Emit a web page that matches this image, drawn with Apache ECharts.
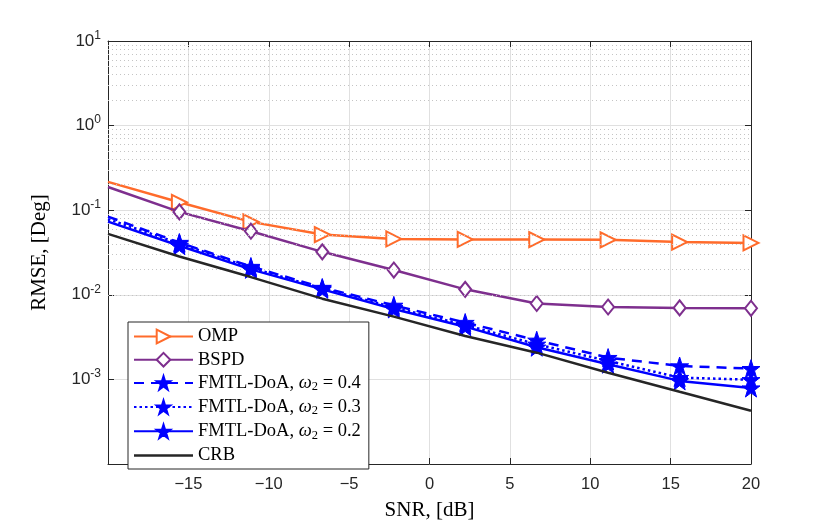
<!DOCTYPE html>
<html>
<head>
<meta charset="utf-8">
<title>RMSE vs SNR</title>
<script src="https://cdn.jsdelivr.net/npm/echarts@6/dist/echarts.min.js"></script>
<style>
  html, body { margin: 0; padding: 0; background: #fff; }
  #main { width: 830px; height: 526px; }
</style>
</head>
<body>
<div id="main"></div>
<script>
// x 轴: SNR (dB)
var snr = [-20, -15.56, -11.11, -6.67, -2.22, 2.22, 6.67, 11.11, 15.56, 20]
// 各算法的 RMSE
var omp = [0.216, 0.124, 0.0728, 0.0515, 0.0458, 0.0452, 0.0450, 0.0446, 0.0420, 0.0410]
var bspd = [0.188, 0.0955, 0.0565, 0.0322, 0.0196, 0.0116, 0.0079, 0.00717, 0.0070, 0.00692]
var fmtl04 = [0.084, 0.0415, 0.0216, 0.0122, 0.0075, 0.0047, 0.0029, 0.00181, 0.00144, 0.00134]
var fmtl03 = [0.0785, 0.0405, 0.0208, 0.0119, 0.0071, 0.0044, 0.0026, 0.00165, 0.00105, 0.00099]
var fmtl02 = [0.0734, 0.038, 0.0200, 0.0116, 0.0068, 0.0042, 0.0024, 0.00151, 0.00096, 0.00079]
var crb = [0.0525, 0.0284, 0.0162, 0.0090, 0.00552, 0.00326, 0.00207, 0.00120, 0.000713, 0.000426]

var names = ['OMP', 'BSPD', 'FMTL-DoA, ω2 = 0.4', 'FMTL-DoA, ω2 = 0.3', 'FMTL-DoA, ω2 = 0.2', 'CRB']
var xTicks = [-20, 20, 5]
var yRange = [1e-4, 10]

var star = 'path://M50,0 L61.8,35.3 L99,35.3 L69,57.3 L80.4,92.7 L50,71 L19.6,92.7 L31,57.3 L1,35.3 L38.2,35.3 Z'
var serif = 'Liberation Serif'
var sans = 'Liberation Sans'
var axisColor = '#262626'

var makeData = function(ys) {
    var d = []
    for (var i = 0; i < snr.length; i++) {
        if (i === 0) {
            // 第一个点在坐标轴边上, 原图没有画标记
            d.push({ value: [snr[i], ys[i]], symbol: 'none' })
        } else {
            d.push([snr[i], ys[i]])
        }
    }
    return d
}

var lineSeries = function(name, ys, color, type, symbol, size, hollow, rotate, z) {
    return {
        name: name,
        type: 'line',
        data: makeData(ys),
        symbol: symbol,
        symbolSize: size,
        symbolRotate: rotate || 0,
        showSymbol: symbol !== 'none',
        z: z,
        animation: false,
        lineStyle: { color: color, width: 2.5, type: type },
        itemStyle: hollow
            ? { color: '#fff', borderColor: color, borderWidth: 2 }
            : { color: color, borderColor: color, borderWidth: 1 }
    }
}

// 对数轴的次网格线 (2..9 x 10^n)
var minorLines = []
for (var n = -4; n < 1; n++) {
    for (var k = 2; k < 10; k++) {
        minorLines.push({ yAxis: k * Math.pow(10, n) })
    }
}

// CRB 在图例里只画一条线
var legendData = []
for (var j = 0; j < names.length; j++) {
    if (names[j] === 'CRB') {
        legendData.push({
            name: names[j],
            icon: 'path://M0,0 L100,0 L100,4.2 L0,4.2 Z',
            itemStyle: { color: axisColor, borderWidth: 0 }
        })
    } else {
        legendData.push(names[j])
    }
}

var chart = echarts.init(document.getElementById('main'))

var option = {
    backgroundColor: '#fff',
    grid: { left: 108, right: 79, top: 41, bottom: 61, containLabel: false },
    legend: {
        data: legendData,
        orient: 'vertical',
        left: 128,
        top: 322,
        itemWidth: 59,
        itemHeight: 17,
        itemGap: 4.2,
        padding: [5, 8, 4, 5],
        backgroundColor: '#fff',
        borderColor: axisColor,
        borderWidth: 1,
        borderRadius: 0,
        formatter: function(name) {
            return name.replace('ω2', '{i|ω}{sub|2}')
        },
        textStyle: {
            fontFamily: serif,
            fontSize: 18.5,
            color: '#000',
            lineHeight: 18,
            rich: {
                i: { fontFamily: serif, fontStyle: 'italic', fontSize: 18.5, color: '#000' },
                sub: { fontFamily: serif, fontSize: 12.5, color: '#000', padding: [8, 0, 0, 0] }
            }
        }
    },
    xAxis: [{
        type: 'value',
        min: xTicks[0],
        max: xTicks[1],
        interval: xTicks[2],
        name: 'SNR, [dB]',
        nameLocation: 'middle',
        nameGap: 36,
        nameTextStyle: { fontFamily: serif, fontSize: 21, color: '#000' },
        axisLine: { show: true, onZero: false, lineStyle: { color: axisColor, width: 1 } },
        axisTick: { show: true, inside: true, length: 6, lineStyle: { color: axisColor } },
        axisLabel: {
            fontFamily: sans, fontSize: 16.5, color: '#262626', margin: 12,
            formatter: function(v) {
                if (v === xTicks[0]) return ''
                return String(v).replace('-', '\u2212')
            }
        },
        splitLine: { show: true, lineStyle: { color: '#e0e0e0', width: 1 } }
    }, {
        type: 'value',
        position: 'top',
        min: xTicks[0],
        max: xTicks[1],
        interval: xTicks[2],
        axisLine: { show: true, onZero: false, lineStyle: { color: axisColor, width: 1 } },
        axisTick: { show: true, inside: true, length: 6, lineStyle: { color: axisColor } },
        axisLabel: { show: false },
        splitLine: { show: false }
    }],
    yAxis: [{
        type: 'log',
        logBase: 10,
        min: yRange[0],
        max: yRange[1],
        name: 'RMSE, [Deg]',
        nameLocation: 'middle',
        nameGap: 58,
        nameRotate: 90,
        nameTextStyle: { fontFamily: serif, fontSize: 21, color: '#000' },
        axisLine: { show: true, onZero: false, lineStyle: { color: axisColor, width: 1 } },
        axisTick: { show: true, inside: true, length: 6, lineStyle: { color: axisColor } },
        axisLabel: {
            margin: 7,
            formatter: function(v) {
                if (v <= yRange[0]) return ''
                var e = Math.round(Math.log(v) / Math.LN10)
                return '{b|10}{s|' + e + '}'
            },
            rich: {
                b: { fontFamily: sans, fontSize: 17, color: '#262626' },
                s: { fontFamily: sans, fontSize: 12, color: '#262626', padding: [0, 0, 11, 0] }
            }
        },
        splitLine: { show: true, lineStyle: { color: '#e0e0e0', width: 1 } }
    }, {
        type: 'log',
        logBase: 10,
        min: yRange[0],
        max: yRange[1],
        position: 'right',
        axisLine: { show: true, onZero: false, lineStyle: { color: axisColor, width: 1 } },
        axisTick: { show: true, inside: true, length: 6, lineStyle: { color: axisColor } },
        axisLabel: { show: false },
        splitLine: { show: false }
    }],
    series: [
        {
            name: 'grid-minor',
            type: 'line',
            data: [],
            z: 1,
            animation: false,
            markLine: {
                silent: true,
                symbol: 'none',
                label: { show: false },
                animation: false,
                lineStyle: { color: '#c4c4c4', width: 1, type: [1, 3] },
                data: minorLines
            }
        },
        lineSeries(names[0], omp, '#ff6b2b', 'solid', 'triangle', 15, true, -90, 3),
        lineSeries(names[1], bspd, '#7e2f8e', 'solid', 'diamond', [12, 15], true, 0, 4),
        lineSeries(names[2], fmtl04, '#0000ff', [10, 7], star, 18, false, 0, 5),
        lineSeries(names[3], fmtl03, '#0000ff', [2.5, 3], star, 18, false, 0, 6),
        lineSeries(names[4], fmtl02, '#0000ff', 'solid', star, 18, false, 0, 7),
        lineSeries(names[5], crb, '#262626', 'solid', 'none', 0, false, 0, 8)
    ]
}

chart.setOption(option)
</script>
</body>
</html>
